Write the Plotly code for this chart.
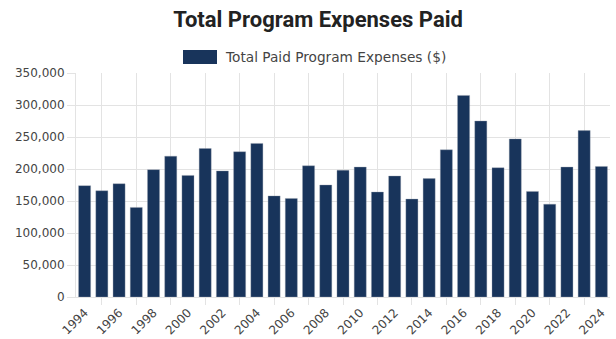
import plotly.graph_objects as go

# Yearly program expenses paid
years = list(range(1994, 2025))
expenses = [
    174000, 166000, 177000, 140000, 199000, 220000, 190000, 232000,
    197000, 227000, 240000, 158000, 154000, 205000, 175000, 198000,
    203000, 164000, 189000, 153000, 185000, 230000, 315000, 275000,
    202000, 247000, 165000, 145000, 203000, 260000, 204000,
]
series_name = "Total Paid Program Expenses ($)"
chart_title = "Total Program Expenses Paid"

BAR_COLOR = "#18345b"
GRID_COLOR = "#e3e3e3"
TICK_FONT = dict(family="DejaVu Sans", size=12, color="#444444")

fig = go.Figure()
fig.add_trace(go.Bar(
    x=years,
    y=expenses,
    name=series_name,
    marker=dict(color=BAR_COLOR, line=dict(width=0.6, color="rgba(150,160,175,0.6)")),
    showlegend=False,
))

# Legend swatch and label drawn above the plot area
fig.add_shape(type="rect", xref="paper", yref="paper",
              x0=(183 - 76) / 534, x1=(217 - 76) / 534,
              y0=1 + (73 - 64) / 224, y1=1 + (73 - 50) / 224,
              fillcolor=BAR_COLOR, line=dict(width=0))
fig.add_annotation(text=series_name, xref="paper", yref="paper",
                   x=(223 - 76) / 534, y=1 + (73 - 57) / 224,
                   xanchor="left", yanchor="middle", showarrow=False,
                   font=dict(family="DejaVu Sans", size=13.7, color="#444444"))

even_years = [y for y in years if y % 2 == 0]
odd_years = [y for y in years if y % 2 == 1]

fig.update_layout(
    width=616, height=339,
    margin=dict(l=76, r=6, t=73, b=42),
    paper_bgcolor="white", plot_bgcolor="white",
    bargap=0.3,
    title=dict(text=chart_title, x=318 / 616, xanchor="center",
               y=1 - 19.5 / 339, yanchor="middle",
               font=dict(family="Roboto", size=22, color="#222222", weight="bold")),
    xaxis=dict(
        range=[1993.5, 2024.5], automargin=False,
        tickmode="array", tickvals=even_years, ticktext=[str(y) for y in even_years],
        tickangle=-45, tickfont=TICK_FONT,
        showgrid=False, ticks="outside", ticklen=3, tickcolor="rgba(0,0,0,0)",
        showline=True, linecolor=GRID_COLOR, linewidth=1,
        minor=dict(tickmode="array", tickvals=odd_years, showgrid=True,
                   gridcolor=GRID_COLOR, gridwidth=1,
                   ticks="outside", ticklen=7, tickcolor=GRID_COLOR),
        zeroline=False,
    ),
    yaxis=dict(
        range=[0, 350000], dtick=50000, tickformat=",", automargin=False,
        tickfont=TICK_FONT, gridcolor=GRID_COLOR, gridwidth=1,
        ticks="outside", ticklen=8, tickcolor=GRID_COLOR,
        showline=True, linecolor=GRID_COLOR, linewidth=1,
        zeroline=False,
    ),
)

fig.write_html("out.html")
